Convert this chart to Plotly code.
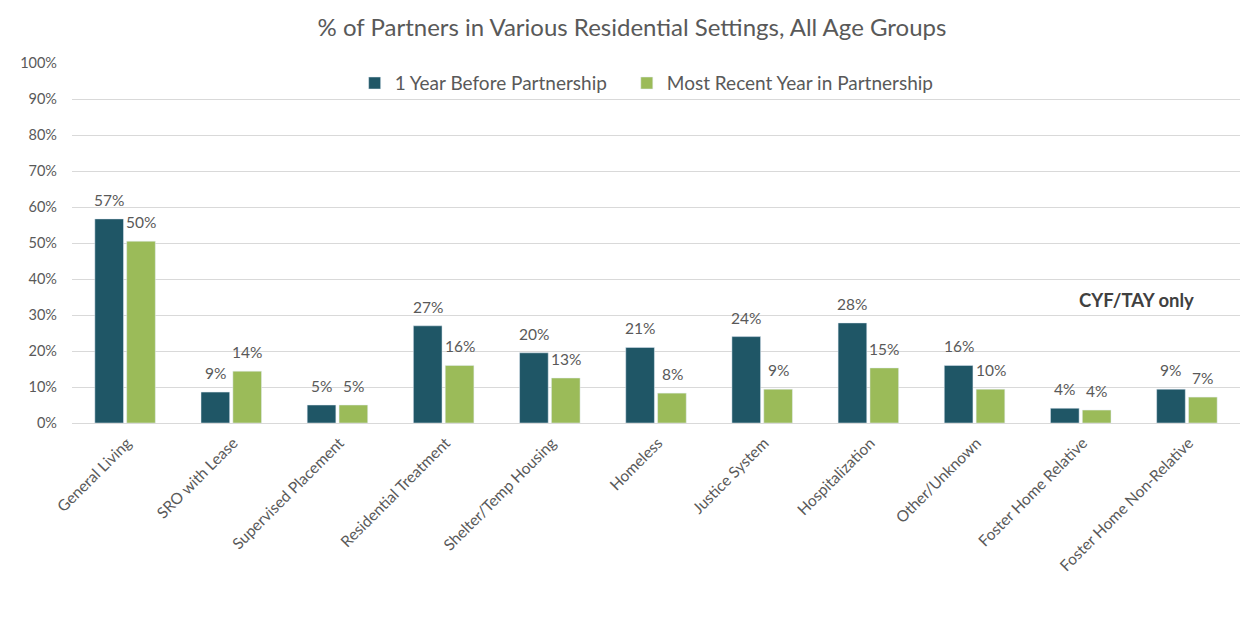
import plotly.graph_objects as go

categories = ["General Living", "SRO with Lease", "Supervised Placement", "Residential Treatment",
              "Shelter/Temp Housing", "Homeless", "Justice System", "Hospitalization",
              "Other/Unknown", "Foster Home Relative", "Foster Home Non-Relative"]
before_values = [56.7, 8.6, 5.0, 27.0, 19.5, 21.0, 24.0, 27.8, 16.0, 4.1, 9.4]
before_labels = ["57%", "9%", "5%", "27%", "20%", "21%", "24%", "28%", "16%", "4%", "9%"]
recent_values = [50.5, 14.4, 5.0, 16.0, 12.5, 8.3, 9.4, 15.3, 9.4, 3.6, 7.2]
recent_labels = ["50%", "14%", "5%", "16%", "13%", "8%", "9%", "15%", "10%", "4%", "7%"]
y_ticks = list(range(0, 101, 10))
y_tick_labels = [f"{v}%" for v in y_ticks]

FONT = "Lato"
GRAY = "#595959"

fig = go.Figure()
fig.add_trace(go.Bar(name="1 Year Before Partnership", x=categories, y=before_values,
                     marker=dict(color="#1F5666"), legend="legend"))
fig.add_trace(go.Bar(name="Most Recent Year in Partnership", x=categories, y=recent_values,
                     marker=dict(color="#9BBB59"), legend="legend2"))

# data labels above each bar
for cat, val, lab in zip(categories, before_values, before_labels):
    fig.add_annotation(x=cat, y=val, text=lab, showarrow=False, xshift=-16, yshift=8,
                       yanchor="bottom", font=dict(size=15.5, color=GRAY, family=FONT))
for cat, val, lab in zip(categories, recent_values, recent_labels):
    fig.add_annotation(x=cat, y=val, text=lab, showarrow=False, xshift=16, yshift=8,
                       yanchor="bottom", font=dict(size=15.5, color=GRAY, family=FONT))

legend_style = dict(orientation="h", xanchor="left", y=0.944, yanchor="middle",
                    font=dict(size=19, color=GRAY, family=FONT), bgcolor="rgba(0,0,0,0)",
                    itemwidth=30)

fig.update_layout(
    width=1248, height=627,
    margin=dict(l=64, r=16, t=55, b=212),
    paper_bgcolor="white", plot_bgcolor="white",
    barmode="group", bargap=0.4, bargroupgap=0.1,
    font=dict(family=FONT, color=GRAY),
    title=dict(text="% of Partners in Various Residential Settings, All Age Groups",
               x=0.5, xanchor="center", y=1 - 20 / 627, yanchor="middle",
               font=dict(size=24, color=GRAY, family=FONT)),
    legend=dict(x=0.242, **legend_style),
    legend2=dict(x=0.475, **legend_style),
    showlegend=True,
)
fig.update_yaxes(range=[0, 100], tickvals=y_ticks, ticktext=y_tick_labels,
                 showgrid=True, gridcolor="#D9D9D9", gridwidth=1, zeroline=False,
                 showline=False, tickfont=dict(size=14.5, color=GRAY, family=FONT),
                 ticks="", ticklabelstandoff=14)
fig.update_xaxes(tickangle=-45, tickfont=dict(size=15.5, color=GRAY, family=FONT),
                 showline=True, linecolor="#D9D9D9", linewidth=1, ticks="",
                 ticklabelshift=2, ticklabelstandoff=4)
fig.add_annotation(text="<b>CYF/TAY only</b>", x=0.962, xref="paper", y=34.2, yref="y",
                   showarrow=False, font=dict(size=18.5, color="#404040", family=FONT))

fig.write_html("out.html")
